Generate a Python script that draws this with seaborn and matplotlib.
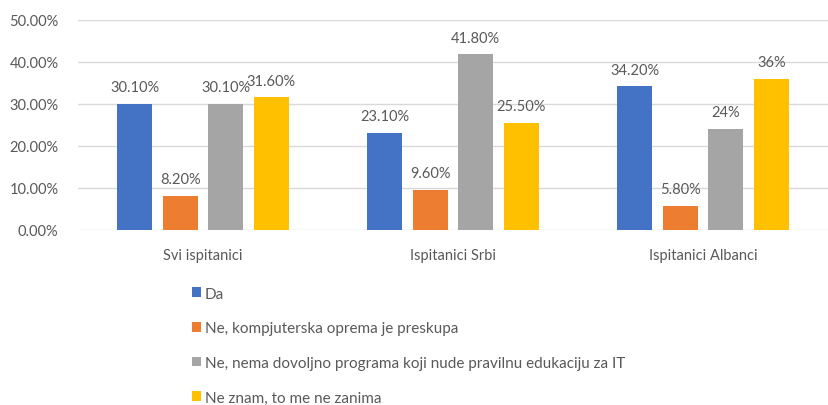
import pandas as pd
import seaborn as sns
import matplotlib.pyplot as plt
from matplotlib.patches import Patch

sns.set_style('white')
plt.rcParams['font.family'] = ['Lato', 'DejaVu Sans']

# podaci
grupe = ['Svi ispitanici', 'Ispitanici Srbi', 'Ispitanici Albanci']
odgovori = ['Da',
            'Ne, kompjuterska oprema je preskupa',
            'Ne, nema dovoljno programa koji nude pravilnu edukaciju za IT',
            'Ne znam, to me ne zanima']
da = [30.1, 23.1, 34.2]
preskupa = [8.2, 9.6, 5.8]
nema_programa = [30.1, 41.8, 24.0]
ne_znam = [31.6, 25.5, 36.0]
oznake = [['30.10%', '23.10%', '34.20%'],
          ['8.20%', '9.60%', '5.80%'],
          ['30.10%', '41.80%', '24%'],
          ['31.60%', '25.50%', '36%']]
boje = ['#4472C4', '#ED7D31', '#A5A5A5', '#FFC000']
yticks = [0, 10, 20, 30, 40, 50]

serije = [da, preskupa, nema_programa, ne_znam]
df = pd.DataFrame({
    'grupa': grupe * 4,
    'odgovor': [o for o in odgovori for _ in grupe],
    'vrijednost': [v for s in serije for v in s],
})

fig = plt.figure(figsize=(8.29, 4.06), dpi=100)
ax = fig.add_axes([78 / 829, 175 / 406, 750 / 829, 210 / 406])

sns.barplot(data=df, x='grupa', y='vrijednost', hue='odgovor', hue_order=odgovori,
            palette=boje, width=0.73, gap=0.23, ax=ax, legend=False,
            saturation=1, edgecolor='none')

tekst = '#595959'
for bars, labs in zip(ax.containers, oznake):
    ax.bar_label(bars, labels=labs, padding=7, fontsize=10.5, color=tekst)

ax.set_ylim(0, 50)
ax.set_yticks(yticks)
ax.set_yticklabels([f'{t:.2f}%' for t in yticks])
ax.set_xlim(-0.5, 2.5)
ax.grid(axis='y', color='#D9D9D9', linewidth=1)
ax.set_axisbelow(True)
for s in ax.spines.values():
    s.set_visible(False)
ax.tick_params(axis='both', length=0, labelsize=10.5, colors=tekst)
ax.tick_params(axis='y', pad=14)
ax.tick_params(axis='x', pad=13)
ax.set_xlabel('')
ax.set_ylabel('')

ruke = [Patch(facecolor=b, edgecolor='none') for b in boje]
fig.legend(ruke, odgovori, loc='upper left', bbox_to_anchor=(184 / 829, 1 - 280 / 406),
           frameon=False, fontsize=11, labelcolor=tekst, handlelength=0.6,
           handleheight=0.6, handletextpad=0.25, labelspacing=1.35, borderpad=0)

fig.savefig('out.png', dpi=100)
